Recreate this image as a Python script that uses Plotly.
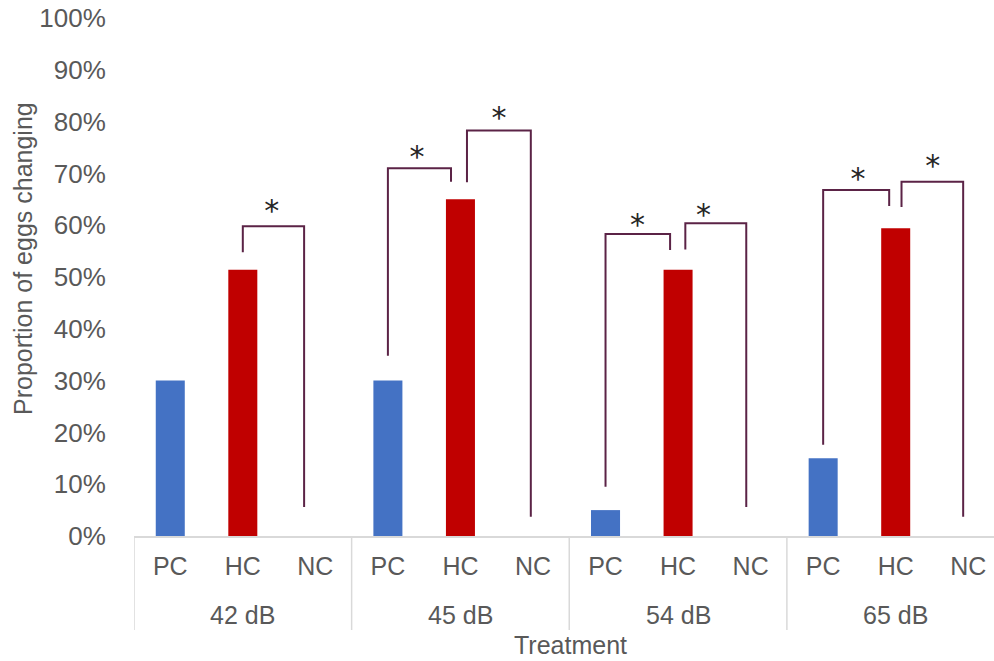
import plotly.graph_objects as go

# --- data -------------------------------------------------------------
group_names = ["42 dB", "45 dB", "54 dB", "65 dB"]
treatment_names = ["PC", "HC", "NC"]
groups = [g for g in group_names for _ in treatment_names]
treatments = treatment_names * len(group_names)
proportions = [30, 51.4, 0, 30, 65, 0, 5, 51.4, 0, 15, 59.4, 0]

# significance brackets (x in category-index units, y in %)
bracket_x = [
    [1.0, 1.0, 1.845, 1.845],
    [3.0, 3.0, 3.87, 3.87],
    [4.09, 4.09, 4.97, 4.97],
    [6.0, 6.0, 6.89, 6.89],
    [7.10, 7.10, 7.94, 7.94],
    [9.0, 9.0, 9.91, 9.91],
    [10.08, 10.08, 10.93, 10.93],
]
bracket_y = [
    [54.8, 59.8, 59.8, 5.6],
    [34.8, 71.0, 71.0, 68.4],
    [68.3, 78.3, 78.3, 3.7],
    [9.5, 58.3, 58.3, 55.2],
    [55.3, 60.4, 60.4, 5.6],
    [17.6, 66.8, 66.8, 63.7],
    [63.5, 68.4, 68.4, 3.7],
]
# anchor points of the significance asterisks
star_x = [1.40, 3.40, 4.53, 6.44, 7.35, 9.48, 10.51]
star_y = [62.3, 72.7, 80.3, 59.6, 61.5, 68.4, 70.9]

y_ticks = list(range(0, 101, 10))
y_tick_text = [f"{v}%" for v in y_ticks]

# --- style ------------------------------------------------------------
colour_map = {"PC": "#4472C4", "HC": "#C00000", "NC": "#A5A5A5"}
bar_colours = [colour_map[t] for t in treatments]
text_grey = "#595959"
axis_grey = "#D9D9D9"
bracket_colour = "#5B2346"
font_family = "Liberation Sans, Arial, sans-serif"
x_range = [-0.5, 11.355]
plot_h = 518  # plot-area height in px, used to convert px offsets to paper units

positions = list(range(len(treatments)))
n_per_group = len(treatment_names)

fig = go.Figure()

fig.add_trace(go.Bar(
    x=positions,
    y=proportions,
    width=0.4,
    marker=dict(color=bar_colours, line=dict(width=0)),
    showlegend=False,
    hoverinfo="skip",
))

for bx, by in zip(bracket_x, bracket_y):
    fig.add_trace(go.Scatter(
        x=bx, y=by,
        mode="lines",
        line=dict(color=bracket_colour, width=2),
        showlegend=False, hoverinfo="skip",
    ))

fig.add_trace(go.Scatter(
    x=star_x, y=star_y,
    mode="text", text=["*"] * len(star_x),
    textposition="middle center",
    textfont=dict(family="DejaVu Sans, sans-serif", size=30, color="#262626"),
    showlegend=False, hoverinfo="skip",
))

# group labels and the dividers between groups below the axis
annotations = []
shapes = []
for gi, name in enumerate(group_names):
    centre = gi * n_per_group + (n_per_group - 1) / 2
    annotations.append(dict(
        text=name, x=centre, xref="x",
        y=-(615 - 536) / plot_h, yref="paper",
        xanchor="center", yanchor="middle", showarrow=False,
        font=dict(size=25, color=text_grey),
    ))
for gi in range(len(group_names) + 1):
    edge = gi * n_per_group - 0.5
    shapes.append(dict(
        type="line", xref="x", yref="paper",
        x0=edge, x1=edge, y0=0, y1=-(630 - 536) / plot_h,
        line=dict(color=axis_grey, width=1.5),
    ))

annotations += [
    dict(
        text="Proportion of eggs changing",
        xref="paper", yref="paper",
        x=(23 - 134) / 860, y=(536 - 259) / plot_h,
        xanchor="center", yanchor="middle",
        textangle=-90, showarrow=False,
        font=dict(size=25, color=text_grey),
    ),
    dict(
        text="Treatment",
        xref="paper", yref="paper",
        x=(570 - 134) / 860, y=-(645 - 536) / plot_h,
        xanchor="center", yanchor="middle",
        showarrow=False,
        font=dict(size=25, color=text_grey),
    ),
]

fig.update_layout(
    width=994, height=661,
    margin=dict(l=134, r=0, t=18, b=125),
    paper_bgcolor="white", plot_bgcolor="white",
    font=dict(family=font_family, size=25, color=text_grey),
    xaxis=dict(
        range=x_range,
        tickvals=positions, ticktext=treatments,
        showline=True, linecolor=axis_grey, linewidth=1.5,
        showgrid=False, zeroline=False,
        ticks="outside", ticklen=7, tickcolor="rgba(0,0,0,0)",
        tickfont=dict(size=25, color=text_grey),
    ),
    yaxis=dict(
        range=[0, 100],
        tickvals=y_ticks, ticktext=y_tick_text,
        showgrid=False, zeroline=False, showline=False,
        ticks="outside", ticklen=22, tickcolor="rgba(0,0,0,0)",
        tickfont=dict(size=26, color=text_grey),
    ),
    annotations=annotations,
    shapes=shapes,
)

fig.write_html("out.html")
